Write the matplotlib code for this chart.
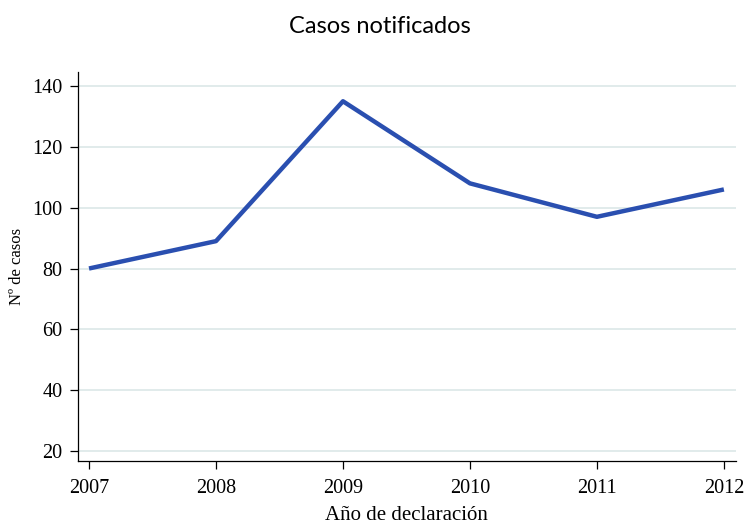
import matplotlib
matplotlib.use("Agg")
import matplotlib.pyplot as plt

anios = [2007, 2008, 2009, 2010, 2011, 2012]
casos = [80, 89, 135, 108, 97, 106]
yticks = [20, 40, 60, 80, 100, 120, 140]

fig = plt.figure(figsize=(7.44, 5.26), dpi=100)
ax = fig.add_axes([0.1048, 0.1236, 0.8842, 0.7394])

serif = ['Liberation Serif', 'DejaVu Serif']

ax.plot(anios, casos, color='#2a4fb0', linewidth=3.2, solid_capstyle='butt', zorder=3)

ax.set_xlim(2006.913, 2012.094)
ax.set_ylim(16.7, 144.6)
ax.set_xticks(anios)
ax.set_yticks(yticks)
ax.grid(axis='y', color='#dce8e8', linewidth=1.2, zorder=0)
ax.set_axisbelow(True)

for s in ['top', 'right']:
    ax.spines[s].set_visible(False)
for s in ['left', 'bottom']:
    ax.spines[s].set_linewidth(0.9)

ax.tick_params(axis='both', length=6, width=0.9, color='black')
ax.tick_params(axis='x', pad=7)
ax.tick_params(axis='y', pad=5)
for lab in ax.get_xticklabels() + ax.get_yticklabels():
    lab.set_fontfamily(serif)
    lab.set_fontsize(14.5)

ax.set_xlabel('Año de declaración', fontfamily=serif, fontsize=15, labelpad=6)
ax.set_ylabel('Nº de casos', fontfamily=serif, fontsize=12, labelpad=5)
fig.text(0.511, 0.97, 'Casos notificados', fontfamily=['Lato', 'DejaVu Sans'],
         fontsize=17, ha='center', va='top')

fig.savefig('out.png', dpi=100)
